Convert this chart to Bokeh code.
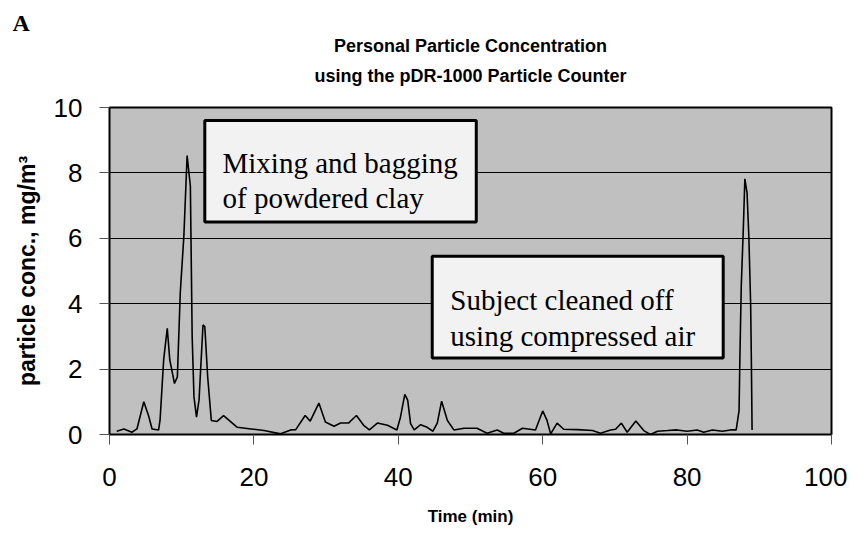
from bokeh.plotting import figure
from bokeh.models import Range1d, Label, BoxAnnotation, Title, FixedTicker
from bokeh.embed import file_html
from bokeh.resources import INLINE

# ---- data ----
time_min = [1.0, 2.0, 3.1, 3.8, 4.75, 5.4, 5.9, 6.8, 7.0, 7.5,
            8.0, 8.35, 9.0, 9.4, 9.8, 10.3, 10.75, 11.2, 11.45, 11.7,
            12.05, 12.4, 12.95, 13.2, 13.6, 14.1, 14.9, 15.8, 17.7, 19.6,
            21.4, 23.7, 25.1, 25.8, 27.1, 27.8, 29.0, 29.9, 31.1, 32.0,
            33.1, 34.2, 35.2, 36.0, 37.1, 38.5, 39.8, 40.3, 40.9, 41.3,
            41.7, 42.2, 43.1, 44.0, 44.8, 45.4, 46.0, 46.8, 47.7, 49.1,
            50.9, 52.3, 53.7, 54.6, 56.0, 57.2, 59.0, 60.0, 60.6, 61.1,
            62.0, 62.9, 64.8, 66.9, 68.0, 69.4, 70.1, 70.9, 71.7, 72.9,
            74.0, 74.9, 75.9, 77.3, 78.6, 80.0, 81.4, 82.3, 83.5, 84.9,
            86.0, 86.8, 87.2, 87.3, 87.5, 87.8, 88.0, 88.3, 88.55, 88.8,
            88.9, 89.0]
conc = [0.10, 0.17, 0.07, 0.17, 1.00, 0.58, 0.17, 0.14, 0.43, 2.28,
        3.25, 2.28, 1.56, 1.76, 4.33, 6.07, 8.53, 7.60, 3.00, 1.15,
        0.53, 1.05, 3.35, 3.30, 1.76, 0.43, 0.40, 0.58, 0.22, 0.17,
        0.12, 0.02, 0.14, 0.15, 0.58, 0.41, 0.96, 0.38, 0.25, 0.35,
        0.35, 0.58, 0.28, 0.14, 0.35, 0.28, 0.14, 0.53, 1.23, 1.05,
        0.33, 0.14, 0.30, 0.22, 0.10, 0.35, 1.02, 0.43, 0.14, 0.19,
        0.19, 0.04, 0.14, 0.04, 0.04, 0.19, 0.14, 0.72, 0.43, 0.02,
        0.35, 0.16, 0.15, 0.12, 0.04, 0.14, 0.16, 0.35, 0.07, 0.41,
        0.12, 0.00, 0.10, 0.12, 0.14, 0.10, 0.14, 0.07, 0.14, 0.10,
        0.14, 0.14, 0.74, 2.20, 4.53, 6.38, 7.82, 7.40, 6.07, 4.00,
        2.28, 0.14]
x_ticks = [0, 20, 40, 60, 80, 100]
y_ticks = [0, 2, 4, 6, 8, 10]
title_lines = ["Personal Particle Concentration",
               "using the pDR-1000 Particle Counter"]
x_label = "Time (min)"
y_label = "particle conc., mg/m\u00b3"
note1 = ["Mixing and bagging", "of powdered clay"]
note2 = ["Subject cleaned off", "using compressed air"]
panel_letter = "A"

SANS = "Liberation Sans"
SERIF = "Liberation Serif"

p = figure(width=847, height=543, output_backend="svg", toolbar_location=None,
           x_range=Range1d(0, 100), y_range=Range1d(0, 10),
           min_border_left=109, min_border_right=16,
           min_border_top=107, min_border_bottom=109)
p.background_fill_color = "#c0c0c0"
p.border_fill_color = "white"
p.outline_line_color = "black"
p.outline_line_width = 2

p.xgrid.visible = False
p.ygrid.grid_line_color = "black"
p.ygrid.grid_line_width = 1

for ax in (p.xaxis, p.yaxis):
    ax.axis_line_color = None
    ax.major_tick_in = 0
    ax.major_tick_out = 10
    ax.major_tick_line_color = "#555555"
    ax.major_tick_line_width = 1
    ax.minor_tick_line_color = None
    ax.major_label_text_font = SANS
    ax.major_label_text_font_size = "26px"
    ax.major_label_text_color = "black"
    ax.axis_label_text_font = SANS
    ax.axis_label_text_font_style = "bold"
    ax.axis_label_text_color = "black"

p.xaxis.ticker = FixedTicker(ticks=x_ticks)
p.yaxis.ticker = FixedTicker(ticks=y_ticks)
p.xaxis.major_label_standoff = 23
p.yaxis.major_label_standoff = 17
p.xaxis.axis_label = x_label
p.xaxis.axis_label_text_font_size = "17px"
p.xaxis.axis_label_standoff = 18
p.yaxis.axis_label = y_label
p.yaxis.axis_label_text_font_size = "23px"
p.yaxis.axis_label_standoff = 11

p.line(time_min, conc, line_color="black", line_width=1.6)

# annotation boxes
p.add_layout(BoxAnnotation(left=13.2, right=50.8, top=9.6, bottom=6.5,
                           fill_color="#f2f2f2", fill_alpha=1,
                           line_color="black", line_width=3, line_alpha=1))
p.add_layout(BoxAnnotation(left=44.7, right=85.0, top=5.45, bottom=2.34,
                           fill_color="#f2f2f2", fill_alpha=1,
                           line_color="black", line_width=3, line_alpha=1))
for txt, (lx, ly) in zip(note1, [(15.65, 8.31), (15.65, 7.23)]):
    p.add_layout(Label(x=lx, y=ly, text=txt, text_font=SERIF, text_font_size="29px",
                       text_align="left", text_baseline="alphabetic", text_color="black"))
for txt, (lx, ly) in zip(note2, [(47.2, 4.10), (47.2, 3.02)]):
    p.add_layout(Label(x=lx, y=ly, text=txt, text_font=SERIF, text_font_size="29px",
                       text_align="left", text_baseline="alphabetic", text_color="black"))


def make_title(text, standoff, **kw):
    try:
        return Title(text=text, standoff=standoff, **kw)
    except Exception:
        return Title(text=text, standoff=max(0, standoff), **kw)


# title lines (closest to the frame first) and the panel letter on top
p.add_layout(make_title(title_lines[1], 42.4, align="center", text_font=SANS,
                        text_font_size="18px", text_font_style="bold",
                        text_color="black"), "above")
p.add_layout(make_title(title_lines[0], -25.6, align="center", text_font=SANS,
                        text_font_size="18px", text_font_style="bold",
                        text_color="black"), "above")
p.add_layout(make_title(panel_letter, 11, align="left", offset=-97,
                        vertical_align="top", text_font=SERIF,
                        text_font_size="24px", text_font_style="bold",
                        text_color="black"), "above")

open("out.html", "w").write(file_html(p, INLINE))
